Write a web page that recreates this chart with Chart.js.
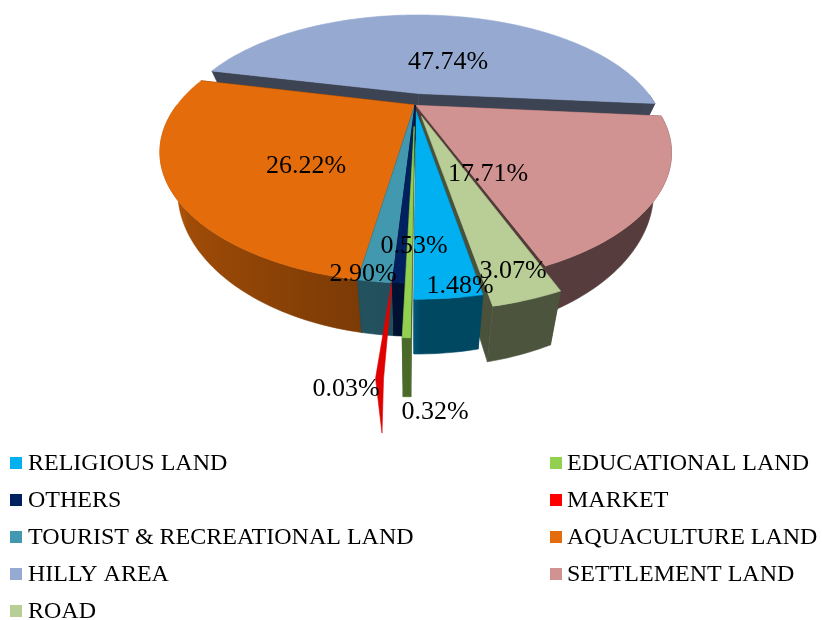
<!DOCTYPE html>
<html>
<head>
<meta charset="utf-8">
<style>
  html, body { margin: 0; padding: 0; background: #fff; }
  canvas { display: block; }
</style>
<script src="https://cdn.jsdelivr.net/npm/chart.js@4"></script>
</head>
<body>
<canvas id="chart" width="822" height="620"></canvas>
<script>
const landUse = ['RELIGIOUS LAND', 'EDUCATIONAL LAND', 'OTHERS', 'MARKET', 'TOURIST & RECREATIONAL LAND',
  'AQUACULTURE LAND', 'HILLY AREA', 'SETTLEMENT LAND', 'ROAD'];
const landShares = [2.90, 0.32, 0.53, 0.03, 1.48, 26.22, 47.74, 17.71, 3.07];

const sliceColors = ['#00B0F0', '#92D050', '#002060', '#FF0000', '#4198AF', '#E46C0A', '#95A9D1', '#D19392', '#B9CD96'];
const explode = [0.056, 0.177, 0, 0.29, 0, 0, 0.105, 0.005, 0.098];
// the percentages were dragged around by hand in the original
const labelSpots = [[363, 274], [435, 412], [414, 246], [346, 389], [460, 286], [306, 166], [448, 62], [488, 174], [513, 271]];

// perspective of the tilted pie
const view = { cx: 415, cy: 105, rx: 238, ry: 114, k: 0.36, depth: 34, shrink: 0.93 };

function project(u, v) {
  const s = 1 / (1 - view.k * v);
  return { x: view.cx + view.rx * u * s, y: view.cy + view.ry * v * s, s: s };
}

function lower(p) {
  return { x: view.cx + (p.x - view.cx) * view.shrink, y: p.y + view.depth * p.s };
}

function shade(hex, f) {
  const n = parseInt(hex.slice(1), 16);
  const r = Math.round((n >> 16 & 255) * f);
  const g = Math.round((n >> 8 & 255) * f);
  const b = Math.round((n & 255) * f);
  return `rgb(${r},${g},${b})`;
}

function fillPoly(ctx, pts, color) {
  ctx.beginPath();
  pts.forEach((p, i) => i ? ctx.lineTo(p.x, p.y) : ctx.moveTo(p.x, p.y));
  ctx.closePath();
  ctx.fillStyle = color;
  ctx.strokeStyle = color;
  ctx.lineWidth = 0.6;
  ctx.fill();
  ctx.stroke();
}

function drawSliver(ctx, mid, e, color) {
  const half = 0.007;
  const at = (a, r) => project(r * Math.cos(a), r * Math.sin(a));
  const r = 1 + e;
  const wide = at(mid, r);
  const low = lower(wide);
  const tip = { x: low.x, y: wide.y + (low.y - wide.y) * 0.86 };
  fillPoly(ctx, [at(mid, 0.98), at(mid + half, r), tip, at(mid - half, r)], shade(color, 0.88));
}

function drawWall(ctx, rim, a0, a1, color) {
  // the round outside of a slice, only the part that faces the viewer
  const steps = Math.max(2, Math.ceil((a1 - a0) / 0.02));
  const angles = [];
  for (let i = 0; i <= steps; i++) {
    const a = a0 + (a1 - a0) * i / steps;
    if (Math.sin(a) >= 0) angles.push(a);
  }
  if (angles.length < 2) return;
  const upper = angles.map(rim);
  const bottom = upper.map(lower);
  const xs = upper.concat(bottom).map(p => p.x);
  const x0 = Math.min(...xs);
  const x1 = Math.max(...xs);
  const grad = ctx.createLinearGradient(x0, 0, x1, 0);
  angles.forEach((a, i) => {
    const u = Math.cos(a);
    const f = u < 0 ? 0.5 + 0.27 * -u : 0.41;
    const mx = (upper[i].x + bottom[i].x) / 2;
    grad.addColorStop((mx - x0) / (x1 - x0 || 1), shade(color, f));
  });
  fillPoly(ctx, upper.concat(bottom.reverse()), grad);
}

function drawSlice(ctx, a0, a1, e, color) {
  const mid = (a0 + a1) / 2;
  if (a1 - a0 < 0.01) {
    drawSliver(ctx, mid, e, color);
    return;
  }
  const ox = e * Math.cos(mid);
  const oy = e * Math.sin(mid);
  const rim = a => project(ox + Math.cos(a), oy + Math.sin(a));
  const apex = project(ox, oy);
  const cut = shade(color, 0.4);

  fillPoly(ctx, [apex, rim(a0), lower(rim(a0)), lower(apex)], cut);
  fillPoly(ctx, [apex, rim(a1), lower(rim(a1)), lower(apex)], cut);
  drawWall(ctx, rim, a0, a1, color);

  const steps = Math.max(2, Math.ceil((a1 - a0) / 0.02));
  const top = [apex];
  for (let i = 0; i <= steps; i++) {
    top.push(rim(a0 + (a1 - a0) * i / steps));
  }
  fillPoly(ctx, top, color);
}

const tiltedPie = {
  id: 'tiltedPie',
  beforeDatasetsDraw(chart) {
    const ctx = chart.ctx;
    const arcs = chart.getDatasetMeta(0).data.map((el, i) => {
      const p = el.getProps(['startAngle', 'endAngle']);
      return { i: i, a0: p.startAngle, a1: p.endAngle };
    });
    // far slices first
    arcs.sort((p, q) => Math.sin((p.a0 + p.a1) / 2) - Math.sin((q.a0 + q.a1) / 2));
    arcs.forEach(s => drawSlice(ctx, s.a0, s.a1, explode[s.i], sliceColors[s.i]));
    return false;
  },
  afterDraw(chart) {
    const ctx = chart.ctx;
    ctx.save();
    ctx.fillStyle = '#000';
    ctx.textBaseline = 'middle';
    ctx.textAlign = 'center';
    ctx.font = '26px "Liberation Serif"';
    landShares.forEach((v, i) => {
      ctx.fillText(v.toFixed(2) + '%', labelSpots[i][0], labelSpots[i][1]);
    });

    // two column legend
    ctx.textAlign = 'left';
    ctx.font = '24px "Liberation Serif"';
    landUse.forEach((name, i) => {
      const col = i % 2;
      const y = 463 + 37 * Math.floor(i / 2);
      ctx.fillStyle = sliceColors[i];
      ctx.fillRect(col ? 550 : 10, y - 6, 12, 12);
      ctx.fillStyle = '#000';
      ctx.fillText(name, col ? 567 : 28, y + 1);
    });
    ctx.restore();
  }
};

new Chart(document.getElementById('chart'), {
  type: 'pie',
  data: {
    labels: landUse,
    datasets: [{ data: landShares, backgroundColor: sliceColors, borderWidth: 0 }]
  },
  options: {
    responsive: false,
    animation: false,
    rotation: 170,
    plugins: { legend: { display: false }, tooltip: { enabled: false } }
  },
  plugins: [tiltedPie]
});
</script>
</body>
</html>
